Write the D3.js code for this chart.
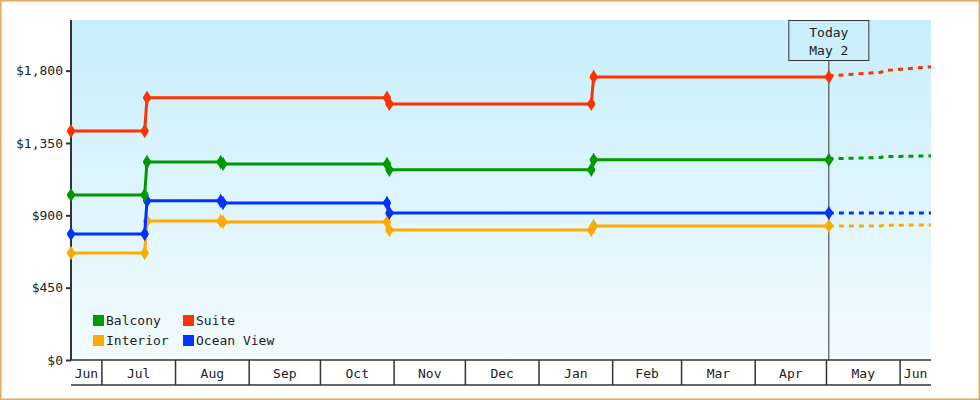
<!DOCTYPE html>
<html><head><meta charset="utf-8">
<script src="https://cdn.jsdelivr.net/npm/d3@7"></script>
<style>body{margin:0}svg{display:block;font-family:"DejaVu Sans Mono",monospace}</style>
</head><body><div id="chart"></div>
<script>
const seriesNames = ["Balcony", "Suite", "Interior", "Ocean View"];
const seriesColors = ["#009900", "#ff3300", "#ffaa00", "#0033ff"];
const dates = ["2023-06-18","2023-07-19","2023-07-20","2023-08-20","2023-08-21","2023-10-29","2023-10-30","2024-01-23","2024-01-24","2024-05-02"];
const balcony  = [1027, 1027, 1232, 1232, 1220, 1220, 1183, 1183, 1245, 1245];
const suite    = [1425, 1425, 1631, 1631, 1631, 1631, 1593, 1593, 1761, 1761];
const interior = [666, 666, 865, 865, 859, 859, 809, 809, 834, 834];
const ocean    = [784, 784, 990, 990, 977, 977, 915, 915, 915, 915];
const projDates = ["2024-05-02","2024-05-03","2024-05-24","2024-05-25","2024-06-14"];
const balconyProj  = [1245, 1252, 1260, 1265, 1270];
const suiteProj    = [1761, 1768, 1790, 1800, 1824];
const interiorProj = [834, 834, 834, 838, 840];
const oceanProj    = [915, 915, 915, 915, 915];
const yTicks = [0, 450, 900, 1350, 1800];
const today = "2024-05-02";

const W = 980, H = 400;
const margin = { top: 20, right: 49, bottom: 40, left: 71 };
const width = W - margin.left - margin.right, height = H - margin.top - margin.bottom;
const parse = d3.timeParse("%Y-%m-%d");
const FS = 13;

const svg = d3.select("#chart").append("svg").attr("width", W).attr("height", H);
svg.append("rect").attr("x", 0.5).attr("y", 0.5).attr("width", W - 1).attr("height", H - 1)
  .attr("fill", "#fff").attr("stroke", "#e8a860").attr("stroke-width", 2);

const grad = svg.append("defs").append("linearGradient").attr("id", "bg")
  .attr("x1", 0).attr("y1", 0).attr("x2", 0).attr("y2", 1);
grad.append("stop").attr("offset", "0%").attr("stop-color", "#c8eefc");
grad.append("stop").attr("offset", "100%").attr("stop-color", "#f2fbff");

const g = svg.append("g").attr("transform", `translate(${margin.left},${margin.top})`);
g.append("rect").attr("width", width).attr("height", height).attr("fill", "url(#bg)");

const x = d3.scaleTime().domain([parse("2023-06-18"), parse("2024-06-14")]).range([0, width]);
const y = d3.scaleLinear().domain([0, 2115]).range([height, 0]);

// y axis
const ya = g.append("g").call(d3.axisLeft(y).tickValues(yTicks).tickSize(5).tickFormat(d => "$" + d3.format(",")(d)));
ya.select(".domain").attr("stroke", "#333").attr("stroke-width", 2).attr("d", `M0,0V${height}`);
ya.selectAll("line").attr("stroke", "#333").attr("stroke-width", 2);
ya.selectAll("text").attr("font-size", FS).attr("fill", "#222").attr("font-family", "DejaVu Sans Mono");

// x axis band with month cells
const xa = g.append("g").attr("transform", `translate(0,${height})`);
const months = d3.timeMonth.range(parse("2023-06-01"), parse("2024-07-01"));
xa.append("line").attr("x1", 0).attr("x2", width).attr("y1", 25).attr("y2", 25).attr("stroke", "#333").attr("stroke-width", 1.5);
xa.append("line").attr("x1", 0).attr("x2", width).attr("y1", 0).attr("y2", 0).attr("stroke", "#333").attr("stroke-width", 1.5);
months.forEach(m => {
  const x0 = Math.max(0, x(m)), x1 = Math.min(width, x(d3.timeMonth.offset(m, 1)));
  if (x(m) > 0) xa.append("line").attr("x1", x0).attr("x2", x0).attr("y1", 0).attr("y2", 25).attr("stroke", "#333").attr("stroke-width", 1.5);
  xa.append("text").attr("x", (x0 + x1) / 2).attr("y", 18).attr("text-anchor", "middle")
    .attr("font-size", FS).attr("fill", "#222").text(d3.timeFormat("%b")(m));
});

// today marker
const tx = x(parse(today));
g.append("line").attr("x1", tx).attr("x2", tx).attr("y1", 40).attr("y2", height).attr("stroke", "#333");
g.append("rect").attr("x", tx - 40).attr("y", 0.5).attr("width", 80).attr("height", 40).attr("fill", "none").attr("stroke", "#333");
g.append("text").attr("x", tx).attr("y", 17).attr("text-anchor", "middle").attr("font-size", FS).attr("fill", "#222").text("Today");
g.append("text").attr("x", tx).attr("y", 35).attr("text-anchor", "middle").attr("font-size", FS).attr("fill", "#222").text("May 2");

const all = [balcony, suite, interior, ocean];
const proj = [balconyProj, suiteProj, interiorProj, oceanProj];
const line = d3.line().x(d => x(d[0])).y(d => y(d[1]));
const diamond = d3.symbol().type(d3.symbolDiamond).size(60);

// draw in order so blue/green overlap like the reference
[2, 3, 0, 1].forEach(i => {
  const v = all[i];
  const pts = dates.map((d, j) => [parse(d), v[j]]);
  const pp = projDates.map((d, j) => [parse(d), proj[i][j]]);
  // markers only where the price changes (or at the ends)
  const marked = pts.filter((p, j) => j === 0 || j === v.length - 1 || v[j] !== v[j - 1] || v[j] !== v[j + 1]);
  g.append("path").datum(pp).attr("d", line).attr("fill", "none").attr("stroke", seriesColors[i])
    .attr("stroke-width", 3).attr("stroke-dasharray", "5,5");
  g.append("path").datum(pts).attr("d", line).attr("fill", "none").attr("stroke", seriesColors[i]).attr("stroke-width", 3);
  const mk = g.selectAll(null).data(marked).join("g").attr("transform", d => `translate(${x(d[0])},${y(d[1])})`);
  mk.append("path").attr("d", diamond).attr("fill", seriesColors[i]);
  mk.append("circle").attr("r", 3.6).attr("fill", seriesColors[i]);
});

// legend
const lg = g.append("g").attr("transform", "translate(22,295)");
seriesNames.forEach((n, i) => {
  const cx = (i % 2) * 90, cy = Math.floor(i / 2) * 20;
  lg.append("rect").attr("x", cx).attr("y", cy).attr("width", 11).attr("height", 11).attr("fill", seriesColors[i]);
  lg.append("text").attr("x", cx + 13).attr("y", cy + 10).attr("font-size", FS).attr("fill", "#222").text(n);
});
</script></body></html>
